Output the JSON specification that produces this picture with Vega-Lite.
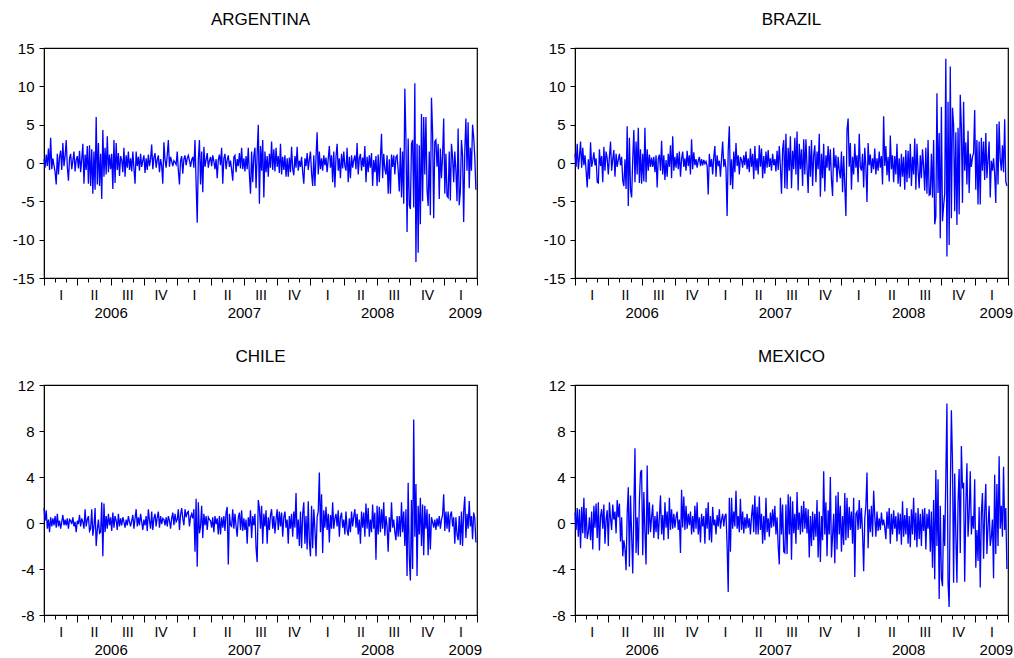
{
"$schema":"https://vega.github.io/schema/vega-lite/v6.json",
"background":"white",
"padding":{"left":11,"top":10,"right":0,"bottom":0},
"config":{"view":{"stroke":"black","strokeWidth":1.2},"axis":{"domainColor":"black","tickColor":"black","labelColor":"black","labelFont":"Liberation Sans","labelFontSize":15,"grid":false,"domainWidth":1,"tickWidth":1},"title":{"fontSize":17,"fontWeight":"normal","font":"Liberation Sans","color":"black","frame":"group","offset":12}},
"datasets":{"r":[
{"i":0,"a":0.5,"b":1.2,"c":1.3,"m":0.9},{"i":1,"a":-0.6,"b":-0.5,"c":0.2,"m":-0.6},{"i":2,"a":1.1,"b":2.5,"c":1.1,"m":1.3},{"i":3,"a":-0.4,"b":-0.8,"c":-0.5,"m":-1.2},{"i":4,"a":1.9,"b":0.8,"c":0.3,"m":1.2},{"i":5,"a":-0.9,"b":2.8,"c":-0.8,"m":-2.2},{"i":6,"a":3.3,"b":-0.6,"c":0.5,"m":1.4},{"i":7,"a":-0.8,"b":2.0,"c":-0.3,"m":-0.9},{"i":8,"a":0.6,"b":-0.3,"c":0.4,"m":2.2},{"i":9,"a":-0.3,"b":1.0,"c":-0.2,"m":-1.3},
{"i":10,"a":-1.2,"b":-1.0,"c":0.6,"m":1.3},{"i":11,"a":-2.8,"b":-3.2,"c":-0.4,"m":-1.4},{"i":12,"a":1.2,"b":0.5,"c":0.8,"m":-0.8},{"i":13,"a":-1.5,"b":-2.1,"c":-0.3,"m":0.5},{"i":14,"a":0.8,"b":2.7,"c":0.2,"m":-1.5},{"i":15,"a":1.6,"b":-0.5,"c":-0.5,"m":1.0},{"i":16,"a":-0.9,"b":0.3,"c":0.1,"m":-2.3},{"i":17,"a":2.6,"b":1.4,"c":0.7,"m":1.5},{"i":18,"a":-0.4,"b":-0.3,"c":-0.2,"m":-0.4},{"i":19,"a":0.9,"b":0.6,"c":0.3,"m":1.7},
{"i":20,"a":3.0,"b":-2.5,"c":-0.2,"m":-1.3},{"i":21,"a":-0.5,"b":-2.6,"c":0.4,"m":1.8},{"i":22,"a":-2.3,"b":1.8,"c":-0.5,"m":-2.4},{"i":23,"a":0.6,"b":-0.4,"c":0.3,"m":0.6},{"i":24,"a":1.2,"b":0.9,"c":0.2,"m":1.2},{"i":25,"a":-0.8,"b":-2.5,"c":-0.1,"m":-0.5},{"i":26,"a":0.3,"b":2.1,"c":0.5,"m":1.6},{"i":27,"a":1.5,"b":-1.0,"c":-0.3,"m":-1.8},{"i":28,"a":-1.1,"b":1.5,"c":0.1,"m":0.3},{"i":29,"a":0.4,"b":0.6,"c":-0.8,"m":1.1},
{"i":30,"a":0.9,"b":-1.5,"c":0.2,"m":-2.0},{"i":31,"a":-0.7,"b":0.8,"c":-0.1,"m":1.8},{"i":32,"a":1.6,"b":2.8,"c":0.7,"m":0.4},{"i":33,"a":-1.2,"b":-1.0,"c":-0.3,"m":-0.6},{"i":34,"a":0.5,"b":0.5,"c":0.4,"m":1.6},{"i":35,"a":2.5,"b":1.7,"c":0.1,"m":0.3},{"i":36,"a":-2.7,"b":-1.8,"c":-0.5,"m":1.0},{"i":37,"a":1.1,"b":1.2,"c":1.2,"m":-0.9},{"i":38,"a":-0.9,"b":-0.5,"c":-0.3,"m":2.0},{"i":39,"a":2.2,"b":0.4,"c":0.3,"m":0.5},
{"i":40,"a":-2.7,"b":1.2,"c":0.6,"m":1.7},{"i":41,"a":2.3,"b":-0.3,"c":-0.7,"m":-1.6},{"i":42,"a":-3.0,"b":0.8,"c":-0.5,"m":0.5},{"i":43,"a":1.8,"b":-2.3,"c":1.2,"m":-2.9},{"i":44,"a":-4.0,"b":-3.0,"c":-1.1,"m":-1.5},{"i":45,"a":1.5,"b":0.5,"c":-0.3,"m":-2.2},{"i":46,"a":-3.5,"b":-3.4,"c":1.3,"m":-4.1},{"i":47,"a":6.0,"b":4.8,"c":-2.0,"m":0.8},{"i":48,"a":-2.8,"b":-5.6,"c":-0.6,"m":3.1},{"i":49,"a":2.6,"b":3.3,"c":0.3,"m":-3.8},
{"i":50,"a":-3.0,"b":-3.5,"c":-0.9,"m":2.4},{"i":51,"a":1.2,"b":-4.5,"c":-0.8,"m":-1.0},{"i":52,"a":-4.7,"b":0.5,"c":1.8,"m":-4.4},{"i":53,"a":4.3,"b":4.3,"c":-2.9,"m":1.0},{"i":54,"a":-1.8,"b":-2.5,"c":1.7,"m":6.5},{"i":55,"a":2.0,"b":2.8,"c":-0.8,"m":-2.6},{"i":56,"a":-1.5,"b":-1.5,"c":0.6,"m":0.5},{"i":57,"a":3.5,"b":4.6,"c":-0.5,"m":-2.8},{"i":58,"a":-1.2,"b":-2.6,"c":0.8,"m":2.0},{"i":59,"a":1.1,"b":1.8,"c":-0.2,"m":4.4},
{"i":60,"a":-0.8,"b":-2.7,"c":0.5,"m":4.6},{"i":61,"a":1.2,"b":1.2,"c":-0.7,"m":-2.8},{"i":62,"a":-3.4,"b":-2.4,"c":0.9,"m":2.7},{"i":63,"a":3.0,"b":4.6,"c":-0.4,"m":-0.8},{"i":64,"a":-2.6,"b":-2.5,"c":0.6,"m":-3.6},{"i":65,"a":2.6,"b":1.8,"c":0.2,"m":5.0},{"i":66,"a":-0.9,"b":-1.0,"c":-0.6,"m":-1.0},{"i":67,"a":1.3,"b":1.1,"c":0.8,"m":1.8},{"i":68,"a":-1.7,"b":-0.5,"c":-0.3,"m":-0.8},{"i":69,"a":0.9,"b":0.7,"c":0.4,"m":0.5},
{"i":70,"a":0.4,"b":-0.5,"c":-0.2,"m":1.6},{"i":71,"a":-1.2,"b":0.8,"c":0.5,"m":-1.3},{"i":72,"a":2.0,"b":-1.2,"c":0.1,"m":0.6},{"i":73,"a":-1.8,"b":1.0,"c":-0.4,"m":-0.8},{"i":74,"a":1.0,"b":-3.2,"c":0.3,"m":1.0},{"i":75,"a":-0.6,"b":0.6,"c":-0.2,"m":-1.4},{"i":76,"a":1.5,"b":1.1,"c":0.6,"m":0.5},{"i":77,"a":-0.9,"b":-1.0,"c":0.1,"m":2.4},{"i":78,"a":0.6,"b":2.9,"c":-0.3,"m":-1.0},{"i":79,"a":-1.1,"b":-1.5,"c":0.2,"m":0.7},
{"i":80,"a":1.5,"b":1.0,"c":0.7,"m":-1.5},{"i":81,"a":-0.7,"b":-2.2,"c":-0.5,"m":1.8},{"i":82,"a":-2.7,"b":0.4,"c":0.4,"m":-0.4},{"i":83,"a":1.5,"b":-1.8,"c":1.2,"m":1.0},{"i":84,"a":-0.4,"b":1.2,"c":-0.3,"m":-1.4},{"i":85,"a":0.8,"b":-0.5,"c":0.5,"m":2.2},{"i":86,"a":-1.0,"b":2.3,"c":-0.2,"m":-0.6},{"i":87,"a":1.2,"b":-2.0,"c":0.8,"m":1.2},{"i":88,"a":-0.5,"b":3.5,"c":0.1,"m":-0.5},{"i":89,"a":0.3,"b":-1.0,"c":-0.6,"m":0.8},
{"i":90,"a":1.0,"b":0.8,"c":0.3,"m":-0.4},{"i":91,"a":-1.3,"b":-0.6,"c":-0.2,"m":0.5},{"i":92,"a":0.6,"b":1.3,"c":0.6,"m":1.0},{"i":93,"a":-0.9,"b":-0.8,"c":-0.7,"m":-0.6},{"i":94,"a":1.1,"b":1.5,"c":1.2,"m":0.3},{"i":95,"a":-0.4,"b":-1.8,"c":0.2,"m":-2.6},{"i":96,"a":0.5,"b":0.5,"c":-0.5,"m":2.9},{"i":97,"a":2.4,"b":1.5,"c":1.0,"m":-0.4},{"i":98,"a":-0.8,"b":-0.5,"c":-0.6,"m":2.3},{"i":99,"a":0.7,"b":0.6,"c":0.4,"m":-0.6},
{"i":100,"a":1.3,"b":-1.0,"c":0.8,"m":1.5},{"i":101,"a":-0.6,"b":1.6,"c":-0.3,"m":-0.5},{"i":102,"a":0.4,"b":-0.4,"c":0.5,"m":0.8},{"i":103,"a":1.0,"b":1.0,"c":1.0,"m":-0.2},{"i":104,"a":-1.2,"b":-1.5,"c":-0.4,"m":1.0},{"i":105,"a":0.5,"b":3.1,"c":0.6,"m":-1.0},{"i":106,"a":-0.3,"b":-0.8,"c":-0.1,"m":0.6},{"i":107,"a":-2.7,"b":1.4,"c":0.4,"m":-0.8},{"i":108,"a":2.7,"b":-0.3,"c":0.3,"m":1.5},{"i":109,"a":0.4,"b":0.5,"c":-0.2,"m":-0.5},
{"i":110,"a":-0.6,"b":-0.6,"c":0.5,"m":1.8},{"i":111,"a":1.0,"b":0.3,"c":-0.3,"m":-1.0},{"i":112,"a":3.0,"b":0.8,"c":0.6,"m":0.5},{"i":113,"a":-0.5,"b":-0.4,"c":0.2,"m":-1.7},{"i":114,"a":0.8,"b":0.5,"c":-0.5,"m":0.8},{"i":115,"a":0.2,"b":-0.3,"c":0.4,"m":-0.3},{"i":116,"a":-0.4,"b":0.4,"c":0.9,"m":0.6},{"i":117,"a":0.3,"b":-0.1,"c":-0.2,"m":-1.8},{"i":118,"a":0.1,"b":0.2,"c":0.8,"m":1.3},{"i":119,"a":-0.2,"b":-0.4,"c":0.1,"m":-0.5},
{"i":120,"a":1.5,"b":-4.1,"c":0.3,"m":1.8},{"i":121,"a":-1.0,"b":1.2,"c":1.2,"m":-1.5},{"i":122,"a":-2.8,"b":-0.5,"c":-0.6,"m":0.6},{"i":123,"a":0.3,"b":0.5,"c":0.7,"m":-1.7},{"i":124,"a":0.9,"b":-1.5,"c":1.3,"m":1.4},{"i":125,"a":-1.4,"b":0.8,"c":0.4,"m":-0.2},{"i":126,"a":0.5,"b":2.2,"c":-0.2,"m":0.3},{"i":127,"a":1.0,"b":-1.8,"c":1.2,"m":-1.0},{"i":128,"a":-0.3,"b":1.0,"c":0.5,"m":0.7},{"i":129,"a":0.6,"b":-0.4,"c":0.9,"m":-0.3},
{"i":130,"a":1.0,"b":0.3,"c":1.0,"m":1.2},{"i":131,"a":0.3,"b":-1.8,"c":-0.3,"m":-0.5},{"i":132,"a":-0.5,"b":0.6,"c":0.5,"m":0.3},{"i":133,"a":0.4,"b":2.8,"c":0.8,"m":0.8},{"i":134,"a":0.8,"b":-0.5,"c":0.4,"m":-0.3},{"i":135,"a":-0.6,"b":0.5,"c":1.2,"m":0.6},{"i":136,"a":3.0,"b":-0.8,"c":-2.5,"m":0.8},{"i":137,"a":-2.6,"b":-6.9,"c":2.1,"m":-2.0},{"i":138,"a":-7.8,"b":1.6,"c":-3.8,"m":-6.0},{"i":139,"a":0.5,"b":4.8,"c":1.8,"m":2.2},
{"i":140,"a":3.0,"b":-2.9,"c":-0.9,"m":-2.5},{"i":141,"a":-2.8,"b":0.5,"c":-0.3,"m":2.2},{"i":142,"a":1.5,"b":-3.4,"c":1.5,"m":-0.5},{"i":143,"a":-3.8,"b":1.5,"c":-1.3,"m":1.0},{"i":144,"a":2.1,"b":-1.2,"c":0.8,"m":-0.3},{"i":145,"a":-0.5,"b":2.6,"c":-0.2,"m":2.8},{"i":146,"a":0.4,"b":-0.4,"c":0.6,"m":-0.5},{"i":147,"a":1.3,"b":1.0,"c":-0.6,"m":0.6},{"i":148,"a":-0.6,"b":-1.5,"c":0.5,"m":-0.8},{"i":149,"a":0.3,"b":0.8,"c":0.3,"m":2.1},
{"i":150,"a":0.8,"b":0.4,"c":0.2,"m":-0.6},{"i":151,"a":-0.4,"b":-0.6,"c":-0.4,"m":1.0},{"i":152,"a":1.0,"b":1.0,"c":0.5,"m":-0.9},{"i":153,"a":0.2,"b":-0.3,"c":-0.8,"m":0.5},{"i":154,"a":-0.8,"b":1.5,"c":0.6,"m":-0.5},{"i":155,"a":0.5,"b":-0.8,"c":-0.1,"m":0.8},{"i":156,"a":-2.0,"b":0.6,"c":0.4,"m":-0.4},{"i":157,"a":0.4,"b":-1.2,"c":-1.0,"m":0.4},{"i":158,"a":1.1,"b":1.9,"c":0.6,"m":-1.0},{"i":159,"a":-0.3,"b":-0.5,"c":-1.0,"m":0.6},
{"i":160,"a":2.0,"b":1.2,"c":0.5,"m":1.6},{"i":161,"a":-2.7,"b":-2.1,"c":-0.4,"m":-0.8},{"i":162,"a":0.6,"b":2.2,"c":0.6,"m":2.4},{"i":163,"a":1.2,"b":-1.0,"c":-0.7,"m":-1.0},{"i":164,"a":-0.8,"b":0.6,"c":0.9,"m":1.4},{"i":165,"a":0.4,"b":-1.5,"c":1.4,"m":-1.0},{"i":166,"a":1.0,"b":2.3,"c":-3.6,"m":2.3},{"i":167,"a":-0.5,"b":-0.5,"c":0.8,"m":-0.6},{"i":168,"a":0.3,"b":1.9,"c":-0.2,"m":0.8},{"i":169,"a":-0.9,"b":-2.0,"c":-0.3,"m":-1.8},
{"i":170,"a":-2.3,"b":0.9,"c":1.2,"m":0.6},{"i":171,"a":0.8,"b":-1.4,"c":-0.5,"m":-1.5},{"i":172,"a":1.0,"b":1.5,"c":0.8,"m":2.2},{"i":173,"a":-1.2,"b":-0.6,"c":-0.3,"m":-0.8},{"i":174,"a":0.5,"b":1.7,"c":-1.2,"m":0.4},{"i":175,"a":-0.4,"b":-0.5,"c":0.5,"m":-1.2},{"i":176,"a":1.3,"b":0.6,"c":0.9,"m":0.9},{"i":177,"a":-0.7,"b":-1.0,"c":-0.6,"m":-0.4},{"i":178,"a":2.0,"b":1.2,"c":1.1,"m":1.2},{"i":179,"a":-0.8,"b":-0.3,"c":-0.7,"m":-0.3},
{"i":180,"a":0.6,"b":0.5,"c":0.4,"m":1.5},{"i":181,"a":-1.1,"b":-1.1,"c":-0.6,"m":-1.0},{"i":182,"a":0.9,"b":1.6,"c":0.3,"m":0.5},{"i":183,"a":-0.8,"b":-0.9,"c":-1.8,"m":-2.0},{"i":184,"a":2.0,"b":2.2,"c":0.5,"m":-3.6},{"i":185,"a":-1.5,"b":-0.5,"c":-0.3,"m":2.2},{"i":186,"a":-4.0,"b":-4.0,"c":1.1,"m":-1.0},{"i":187,"a":1.5,"b":1.8,"c":-1.3,"m":1.6},{"i":188,"a":-2.5,"b":3.0,"c":0.6,"m":-2.5},{"i":189,"a":0.9,"b":-3.3,"c":-0.2,"m":-2.6},
{"i":190,"a":2.0,"b":3.8,"c":0.8,"m":1.6},{"i":191,"a":-3.3,"b":-3.4,"c":-2.2,"m":-2.7},{"i":192,"a":1.2,"b":2.0,"c":-3.4,"m":2.5},{"i":193,"a":5.0,"b":-1.0,"c":2.0,"m":-1.0},{"i":194,"a":-5.3,"b":3.5,"c":1.3,"m":2.3},{"i":195,"a":2.2,"b":-3.3,"c":-0.5,"m":-3.2},{"i":196,"a":-1.0,"b":1.6,"c":1.5,"m":1.9},{"i":197,"a":3.0,"b":-0.8,"c":-1.8,"m":-0.9},{"i":198,"a":-4.5,"b":3.3,"c":0.8,"m":0.8},{"i":199,"a":1.5,"b":-1.5,"c":-0.3,"m":-1.8},
{"i":200,"a":-1.2,"b":4.1,"c":1.1,"m":2.7},{"i":201,"a":0.9,"b":-3.6,"c":-1.8,"m":-0.6},{"i":202,"a":-1.8,"b":2.5,"c":0.5,"m":0.9},{"i":203,"a":1.2,"b":-0.8,"c":-0.6,"m":-1.0},{"i":204,"a":-0.6,"b":1.8,"c":0.7,"m":1.5},{"i":205,"a":2.8,"b":-3.0,"c":1.2,"m":-0.8},{"i":206,"a":-0.9,"b":3.1,"c":-0.5,"m":1.9},{"i":207,"a":1.8,"b":-1.5,"c":0.6,"m":-0.5},{"i":208,"a":-1.1,"b":3.1,"c":-0.9,"m":1.3},{"i":209,"a":2.0,"b":-0.6,"c":0.3,"m":-0.9},
{"i":210,"a":-0.5,"b":-3.9,"c":1.2,"m":1.2},{"i":211,"a":0.9,"b":2.2,"c":-0.6,"m":-3.0},{"i":212,"a":-1.3,"b":-1.8,"c":1.0,"m":0.6},{"i":213,"a":2.5,"b":3.0,"c":-0.3,"m":-2.0},{"i":214,"a":-1.5,"b":-3.0,"c":0.9,"m":1.0},{"i":215,"a":0.8,"b":1.0,"c":-1.2,"m":-1.5},{"i":216,"a":-0.9,"b":2.3,"c":0.5,"m":0.8},{"i":217,"a":1.0,"b":-2.5,"c":1.0,"m":-1.2},{"i":218,"a":-1.8,"b":1.5,"c":-0.4,"m":2.0},{"i":219,"a":0.6,"b":-0.8,"c":0.3,"m":-3.0},
{"i":220,"a":-1.8,"b":3.8,"c":-1.8,"m":1.0},{"i":221,"a":0.7,"b":-4.4,"c":0.6,"m":-3.4},{"i":222,"a":-1.2,"b":1.2,"c":-0.5,"m":0.6},{"i":223,"a":2.1,"b":-2.0,"c":0.8,"m":-1.5},{"i":224,"a":-0.8,"b":2.5,"c":-1.2,"m":4.5},{"i":225,"a":-1.6,"b":-3.7,"c":1.0,"m":-1.0},{"i":226,"a":0.9,"b":1.0,"c":-0.4,"m":1.8},{"i":227,"a":-0.6,"b":-0.6,"c":2.6,"m":-2.9},{"i":228,"a":2.1,"b":2.2,"c":-1.4,"m":1.1},{"i":229,"a":-1.0,"b":-1.0,"c":0.3,"m":-1.0},
{"i":230,"a":0.3,"b":1.8,"c":-2.0,"m":4.0},{"i":231,"a":-0.5,"b":-2.2,"c":1.0,"m":-3.0},{"i":232,"a":0.8,"b":-4.3,"c":-2.2,"m":-1.1},{"i":233,"a":-1.2,"b":2.0,"c":0.8,"m":0.8},{"i":234,"a":-2.7,"b":-0.6,"c":1.8,"m":-3.5},{"i":235,"a":0.6,"b":1.0,"c":-1.8,"m":2.4},{"i":236,"a":-0.4,"b":-2.5,"c":0.6,"m":-2.3},{"i":237,"a":1.3,"b":0.8,"c":-2.3,"m":2.7},{"i":238,"a":-0.9,"b":-1.0,"c":1.9,"m":-1.0},{"i":239,"a":0.5,"b":-2.0,"c":-1.6,"m":1.5},
{"i":240,"a":1.5,"b":1.5,"c":-2.9,"m":-2.5},{"i":241,"a":-1.4,"b":-3.8,"c":1.5,"m":0.6},{"i":242,"a":-3.0,"b":0.9,"c":-2.2,"m":-1.9},{"i":243,"a":1.0,"b":-3.0,"c":1.2,"m":2.6},{"i":244,"a":-3.0,"b":-6.9,"c":-0.5,"m":-1.5},{"i":245,"a":0.8,"b":4.3,"c":-2.9,"m":2.2},{"i":246,"a":4.0,"b":5.8,"c":0.5,"m":-1.3},{"i":247,"a":-1.5,"b":-0.5,"c":1.0,"m":1.4},{"i":248,"a":1.5,"b":2.6,"c":4.4,"m":-0.6},{"i":249,"a":-0.8,"b":-3.5,"c":-0.8,"m":1.0},
{"i":250,"a":0.6,"b":0.8,"c":2.5,"m":-1.8},{"i":251,"a":-1.0,"b":-1.5,"c":-2.6,"m":2.2},{"i":252,"a":1.0,"b":2.5,"c":1.1,"m":-4.7},{"i":253,"a":-0.3,"b":-0.6,"c":-0.4,"m":0.8},{"i":254,"a":0.7,"b":1.0,"c":1.4,"m":1.0},{"i":255,"a":-1.2,"b":-2.5,"c":-0.6,"m":-0.6},{"i":256,"a":0.5,"b":3.8,"c":0.8,"m":2.0},{"i":257,"a":2.2,"b":-0.5,"c":-1.7,"m":-0.5},{"i":258,"a":-0.6,"b":-1.0,"c":0.7,"m":1.3},{"i":259,"a":1.0,"b":1.2,"c":-0.5,"m":-0.9},
{"i":260,"a":-2.5,"b":-3.2,"c":1.8,"m":-4.2},{"i":261,"a":1.5,"b":2.0,"c":-0.5,"m":0.4},{"i":262,"a":-3.2,"b":-0.5,"c":0.4,"m":1.5},{"i":263,"a":0.8,"b":-5.1,"c":0.8,"m":4.4},{"i":264,"a":2.5,"b":2.6,"c":-0.3,"m":-2.2},{"i":265,"a":-1.0,"b":-0.3,"c":1.1,"m":1.2},{"i":266,"a":0.6,"b":1.1,"c":-1.2,"m":-0.8},{"i":267,"a":-2.0,"b":-1.3,"c":0.5,"m":1.5},{"i":268,"a":1.2,"b":0.6,"c":0.9,"m":-1.2},{"i":269,"a":-0.7,"b":-0.8,"c":-0.4,"m":2.8},
{"i":270,"a":1.5,"b":1.9,"c":0.3,"m":0.6},{"i":271,"a":-0.4,"b":-1.5,"c":-1.0,"m":-1.2},{"i":272,"a":-1.0,"b":0.6,"c":1.0,"m":1.0},{"i":273,"a":2.0,"b":-1.0,"c":-0.6,"m":-0.7},{"i":274,"a":-2.5,"b":1.5,"c":-1.1,"m":0.4},{"i":275,"a":0.8,"b":-0.6,"c":0.4,"m":-0.6},{"i":276,"a":-2.0,"b":0.9,"c":-0.8,"m":0.9},{"i":277,"a":1.0,"b":-2.8,"c":1.0,"m":-0.2},{"i":278,"a":-0.6,"b":6.1,"c":-0.3,"m":0.3},{"i":279,"a":0.4,"b":-0.4,"c":0.6,"m":-0.4},
{"i":280,"a":1.0,"b":2.2,"c":1.2,"m":-1.4},{"i":281,"a":-0.8,"b":-1.6,"c":-0.4,"m":1.0},{"i":282,"a":2.6,"b":0.8,"c":0.8,"m":-0.5},{"i":283,"a":-1.5,"b":-2.4,"c":-1.0,"m":1.3},{"i":284,"a":0.6,"b":3.6,"c":0.3,"m":-1.8},{"i":285,"a":1.2,"b":-0.8,"c":-1.8,"m":0.8},{"i":286,"a":-1.0,"b":1.0,"c":1.0,"m":-1.0},{"i":287,"a":0.7,"b":-2.5,"c":-0.4,"m":1.1},{"i":288,"a":-0.5,"b":0.9,"c":0.9,"m":-0.5},{"i":289,"a":2.2,"b":-1.5,"c":-1.2,"m":0.6},
{"i":290,"a":-2.5,"b":2.5,"c":1.7,"m":-1.6},{"i":291,"a":0.8,"b":-2.7,"c":-0.5,"m":0.9},{"i":292,"a":-1.2,"b":0.6,"c":1.3,"m":-1.0},{"i":293,"a":1.0,"b":-3.1,"c":-1.2,"m":0.8},{"i":294,"a":-0.6,"b":1.2,"c":0.3,"m":-1.9},{"i":295,"a":1.3,"b":-1.8,"c":-0.8,"m":1.9},{"i":296,"a":-3.0,"b":0.8,"c":1.6,"m":-1.2},{"i":297,"a":0.4,"b":-3.5,"c":-0.5,"m":0.7},{"i":298,"a":-1.2,"b":1.7,"c":0.9,"m":-1.0},{"i":299,"a":0.9,"b":-2.5,"c":-3.2,"m":1.3},
{"i":300,"a":-3.0,"b":1.6,"c":1.5,"m":-1.8},{"i":301,"a":1.1,"b":-2.0,"c":-1.0,"m":0.6},{"i":302,"a":-2.5,"b":2.5,"c":1.4,"m":-2.1},{"i":303,"a":0.6,"b":-3.0,"c":-0.8,"m":1.2},{"i":304,"a":3.8,"b":0.8,"c":1.2,"m":-1.0},{"i":305,"a":-2.0,"b":-1.5,"c":-0.5,"m":2.2},{"i":306,"a":1.2,"b":3.2,"c":1.8,"m":-1.5},{"i":307,"a":-0.8,"b":-3.5,"c":-1.1,"m":0.9},{"i":308,"a":-1.5,"b":2.5,"c":0.6,"m":-2.1},{"i":309,"a":1.0,"b":-1.0,"c":-0.3,"m":1.3},
{"i":310,"a":-4.0,"b":-3.3,"c":-2.5,"m":-1.4},{"i":311,"a":0.5,"b":1.0,"c":0.5,"m":0.8},{"i":312,"a":-4.0,"b":-2.0,"c":-0.8,"m":-2.0},{"i":313,"a":1.1,"b":1.8,"c":1.8,"m":1.2},{"i":314,"a":-0.5,"b":-0.5,"c":-0.4,"m":-0.7},{"i":315,"a":1.0,"b":-3.6,"c":0.3,"m":1.3},{"i":316,"a":-1.5,"b":2.0,"c":-0.8,"m":-2.3},{"i":317,"a":0.8,"b":-4.0,"c":-1.5,"m":0.8},{"i":318,"a":1.0,"b":3.0,"c":0.6,"m":-0.5},{"i":319,"a":-0.9,"b":-4.2,"c":-1.2,"m":1.2},
{"i":320,"a":-3.7,"b":-4.1,"c":0.6,"m":-2.5},{"i":321,"a":2.0,"b":1.2,"c":-1.2,"m":1.0},{"i":322,"a":-4.5,"b":-4.5,"c":1.8,"m":-3.9},{"i":323,"a":1.5,"b":3.0,"c":-0.8,"m":2.0},{"i":324,"a":-5.3,"b":-8.0,"c":1.0,"m":-4.9},{"i":325,"a":9.7,"b":-7.0,"c":-2.0,"m":4.6},{"i":326,"a":3.0,"b":9.1,"c":1.2,"m":-2.0},{"i":327,"a":-9.0,"b":-3.9,"c":-4.6,"m":3.8},{"i":328,"a":3.2,"b":3.9,"c":3.5,"m":-6.6},{"i":329,"a":-5.5,"b":-9.8,"c":-3.0,"m":1.5},
{"i":330,"a":-6.0,"b":7.3,"c":-5.0,"m":-4.8},{"i":331,"a":2.5,"b":-7.6,"c":2.0,"m":-5.5},{"i":332,"a":3.0,"b":-5.6,"c":-4.0,"m":0.7},{"i":333,"a":-5.8,"b":-4.0,"c":9.0,"m":-2.0},{"i":334,"a":10.4,"b":13.6,"c":-1.2,"m":4.0},{"i":335,"a":-12.9,"b":-12.2,"c":3.4,"m":10.4},{"i":336,"a":2.5,"b":8.0,"c":-4.6,"m":-5.2},{"i":337,"a":-11.7,"b":-10.7,"c":1.5,"m":-7.3},{"i":338,"a":2.3,"b":12.6,"c":-1.0,"m":2.3},{"i":339,"a":-8.0,"b":-7.2,"c":2.2,"m":9.8},
{"i":340,"a":6.4,"b":7.2,"c":-2.0,"m":5.3},{"i":341,"a":-5.0,"b":5.0,"c":1.6,"m":-5.2},{"i":342,"a":6.0,"b":-6.3,"c":-2.8,"m":4.3},{"i":343,"a":-1.5,"b":4.0,"c":1.5,"m":-1.0},{"i":344,"a":6.0,"b":-8.1,"c":-0.5,"m":-5.2},{"i":345,"a":-3.5,"b":4.6,"c":1.2,"m":1.8},{"i":346,"a":-5.6,"b":-6.7,"c":-2.8,"m":4.7},{"i":347,"a":1.5,"b":8.9,"c":0.8,"m":-2.6},{"i":348,"a":-6.8,"b":4.6,"c":-2.3,"m":6.7},{"i":349,"a":8.5,"b":-5.2,"c":0.5,"m":3.0},
{"i":350,"a":4.0,"b":8.0,"c":0.1,"m":3.5},{"i":351,"a":-7.2,"b":-1.0,"c":-0.4,"m":-5.1},{"i":352,"a":2.8,"b":2.7,"c":0.3,"m":1.5},{"i":353,"a":3.0,"b":-2.8,"c":-0.6,"m":5.2},{"i":354,"a":-0.5,"b":4.2,"c":0.4,"m":-1.2},{"i":355,"a":2.5,"b":-3.9,"c":-0.3,"m":0.8},{"i":356,"a":-4.7,"b":1.2,"c":0.6,"m":4.5},{"i":357,"a":1.9,"b":-0.5,"c":-0.5,"m":-1.0},{"i":358,"a":-2.0,"b":0.8,"c":0.3,"m":0.6},{"i":359,"a":1.0,"b":1.3,"c":0.7,"m":-0.5},
{"i":360,"a":5.8,"b":6.9,"c":2.5,"m":3.8},{"i":361,"a":-4.0,"b":-3.5,"c":-0.7,"m":-3.9},{"i":362,"a":1.2,"b":3.0,"c":1.0,"m":-0.6},{"i":363,"a":-4.3,"b":-5.4,"c":-0.5,"m":-3.3},{"i":364,"a":-4.5,"b":2.8,"c":1.0,"m":1.4},{"i":365,"a":1.5,"b":-5.4,"c":-0.8,"m":-5.6},{"i":366,"a":-4.9,"b":3.3,"c":0.7,"m":0.8},{"i":367,"a":2.5,"b":-1.0,"c":1.0,"m":2.6},{"i":368,"a":0.8,"b":2.8,"c":-0.3,"m":-3.1},{"i":369,"a":-2.5,"b":-2.2,"c":0.5,"m":1.0},
{"i":370,"a":1.5,"b":3.9,"c":-1.8,"m":3.4},{"i":371,"a":-1.0,"b":-2.0,"c":0.5,"m":-2.7},{"i":372,"a":-5.0,"b":0.5,"c":-1.0,"m":-0.3},{"i":373,"a":4.5,"b":2.8,"c":-1.5,"m":1.5},{"i":374,"a":-5.5,"b":-4.5,"c":0.6,"m":-2.0},{"i":375,"a":-3.7,"b":0.3,"c":-1.9,"m":-1.2},{"i":376,"a":3.0,"b":-1.0,"c":1.0,"m":0.3},{"i":377,"a":1.0,"b":0.6,"c":-2.0,"m":-4.8},{"i":378,"a":-7.7,"b":-1.5,"c":1.0,"m":4.2},{"i":379,"a":1.5,"b":-5.2,"c":2.3,"m":-2.7},
{"i":380,"a":5.8,"b":5.1,"c":-1.3,"m":3.4},{"i":381,"a":-1.0,"b":-2.8,"c":0.8,"m":-2.0},{"i":382,"a":5.3,"b":5.4,"c":-0.5,"m":5.8},{"i":383,"a":-3.3,"b":0.5,"c":1.9,"m":-0.5},{"i":384,"a":2.0,"b":-1.0,"c":-0.3,"m":1.5},{"i":385,"a":-1.0,"b":2.3,"c":0.6,"m":-1.2},{"i":386,"a":5.0,"b":-1.2,"c":-1.4,"m":4.9},{"i":387,"a":3.4,"b":5.7,"c":0.9,"m":-0.6},{"i":388,"a":0.8,"b":-2.4,"c":0.4,"m":1.3},{"i":389,"a":-3.5,"b":-3.0,"c":-1.7,"m":-4.0}
]},
"data":{"name":"r"},
"columns":2,
"spacing":{"row":107,"column":98},
"bounds":"flush",
"concat":[
{"width":433,"height":230,"title":"ARGENTINA",
 "layer":[
  {"mark":{"type":"line","color":"#0000ff","strokeWidth":1.3},
   "encoding":{
    "x":{"field":"i","type":"quantitative","scale":{"domain":[0,390],"nice":false,"zero":false},"axis":{"title":null,"orient":"bottom","values":[0,10,20,30,40,50,60,70,80,90,100,110,120,130,140,150,160,170,180,190,200,210,220,230,240,250,260,270,280,290,300,310,320,330,340,350,360,370,380,390],"labels":false,"tickSize":{"condition":{"test":"datum.value % 30 === 0","value":7},"value":4}}},
    "y":{"field":"a","type":"quantitative","scale":{"domain":[-15,15],"nice":false,"zero":false},"axis":{"title":null,"values":[-15,-10,-5,0,5,10,15],"labelExpr":"'' + datum.value","tickSize":5,"labelPadding":5}}}},
  {"mark":{"type":"point","opacity":0},
   "encoding":{"x":{"field":"i","type":"quantitative","scale":{"domain":[0,390],"nice":false,"zero":false},"axis":{"title":null,"orient":"bottom","values":[15,45,75,105,135,165,195,225,255,285,315,345,375],"labelExpr":"['I','II','III','IV'][((datum.value-15)/30)%4]","ticks":false,"domain":false,"labelPadding":10,"labelFlush":false,"labelFontSize":14}},
    "y":{"field":"a","type":"quantitative","scale":{"domain":[-15,15],"nice":false,"zero":false},"axis":{"title":null,"values":[-15,-10,-5,0,5,10,15],"labelExpr":"'' + datum.value","tickSize":5,"labelPadding":5}}}},
  {"mark":{"type":"point","opacity":0},
   "encoding":{"x":{"field":"i","type":"quantitative","scale":{"domain":[0,390],"nice":false,"zero":false},"axis":{"title":null,"orient":"bottom","values":[60,180,300,379],"labelExpr":"datum.value<120?'2006':datum.value<240?'2007':datum.value<360?'2008':'2009'","ticks":false,"domain":false,"labelPadding":27,"labelFlush":false}},
    "y":{"field":"a","type":"quantitative","scale":{"domain":[-15,15],"nice":false,"zero":false},"axis":{"title":null,"values":[-15,-10,-5,0,5,10,15],"labelExpr":"'' + datum.value","tickSize":5,"labelPadding":5}}}}
 ],
 "resolve":{"axis":{"x":"independent"}}},
{"width":433,"height":230,"title":"BRAZIL",
 "layer":[
  {"mark":{"type":"line","color":"#0000ff","strokeWidth":1.3},
   "encoding":{
    "x":{"field":"i","type":"quantitative","scale":{"domain":[0,390],"nice":false,"zero":false},"axis":{"title":null,"orient":"bottom","values":[0,10,20,30,40,50,60,70,80,90,100,110,120,130,140,150,160,170,180,190,200,210,220,230,240,250,260,270,280,290,300,310,320,330,340,350,360,370,380,390],"labels":false,"tickSize":{"condition":{"test":"datum.value % 30 === 0","value":7},"value":4}}},
    "y":{"field":"b","type":"quantitative","scale":{"domain":[-15,15],"nice":false,"zero":false},"axis":{"title":null,"values":[-15,-10,-5,0,5,10,15],"labelExpr":"'' + datum.value","tickSize":5,"labelPadding":5}}}},
  {"mark":{"type":"point","opacity":0},
   "encoding":{"x":{"field":"i","type":"quantitative","scale":{"domain":[0,390],"nice":false,"zero":false},"axis":{"title":null,"orient":"bottom","values":[15,45,75,105,135,165,195,225,255,285,315,345,375],"labelExpr":"['I','II','III','IV'][((datum.value-15)/30)%4]","ticks":false,"domain":false,"labelPadding":10,"labelFlush":false,"labelFontSize":14}},
    "y":{"field":"b","type":"quantitative","scale":{"domain":[-15,15],"nice":false,"zero":false},"axis":{"title":null,"values":[-15,-10,-5,0,5,10,15],"labelExpr":"'' + datum.value","tickSize":5,"labelPadding":5}}}},
  {"mark":{"type":"point","opacity":0},
   "encoding":{"x":{"field":"i","type":"quantitative","scale":{"domain":[0,390],"nice":false,"zero":false},"axis":{"title":null,"orient":"bottom","values":[60,180,300,379],"labelExpr":"datum.value<120?'2006':datum.value<240?'2007':datum.value<360?'2008':'2009'","ticks":false,"domain":false,"labelPadding":27,"labelFlush":false}},
    "y":{"field":"b","type":"quantitative","scale":{"domain":[-15,15],"nice":false,"zero":false},"axis":{"title":null,"values":[-15,-10,-5,0,5,10,15],"labelExpr":"'' + datum.value","tickSize":5,"labelPadding":5}}}}
 ],
 "resolve":{"axis":{"x":"independent"}}},
{"width":433,"height":230,"title":"CHILE",
 "layer":[
  {"mark":{"type":"line","color":"#0000ff","strokeWidth":1.3},
   "encoding":{
    "x":{"field":"i","type":"quantitative","scale":{"domain":[0,390],"nice":false,"zero":false},"axis":{"title":null,"orient":"bottom","values":[0,10,20,30,40,50,60,70,80,90,100,110,120,130,140,150,160,170,180,190,200,210,220,230,240,250,260,270,280,290,300,310,320,330,340,350,360,370,380,390],"labels":false,"tickSize":{"condition":{"test":"datum.value % 30 === 0","value":7},"value":4}}},
    "y":{"field":"c","type":"quantitative","scale":{"domain":[-8,12],"nice":false,"zero":false},"axis":{"title":null,"values":[-8,-4,0,4,8,12],"labelExpr":"'' + datum.value","tickSize":5,"labelPadding":5}}}},
  {"mark":{"type":"point","opacity":0},
   "encoding":{"x":{"field":"i","type":"quantitative","scale":{"domain":[0,390],"nice":false,"zero":false},"axis":{"title":null,"orient":"bottom","values":[15,45,75,105,135,165,195,225,255,285,315,345,375],"labelExpr":"['I','II','III','IV'][((datum.value-15)/30)%4]","ticks":false,"domain":false,"labelPadding":10,"labelFlush":false,"labelFontSize":14}},
    "y":{"field":"c","type":"quantitative","scale":{"domain":[-8,12],"nice":false,"zero":false},"axis":{"title":null,"values":[-8,-4,0,4,8,12],"labelExpr":"'' + datum.value","tickSize":5,"labelPadding":5}}}},
  {"mark":{"type":"point","opacity":0},
   "encoding":{"x":{"field":"i","type":"quantitative","scale":{"domain":[0,390],"nice":false,"zero":false},"axis":{"title":null,"orient":"bottom","values":[60,180,300,379],"labelExpr":"datum.value<120?'2006':datum.value<240?'2007':datum.value<360?'2008':'2009'","ticks":false,"domain":false,"labelPadding":27,"labelFlush":false}},
    "y":{"field":"c","type":"quantitative","scale":{"domain":[-8,12],"nice":false,"zero":false},"axis":{"title":null,"values":[-8,-4,0,4,8,12],"labelExpr":"'' + datum.value","tickSize":5,"labelPadding":5}}}}
 ],
 "resolve":{"axis":{"x":"independent"}}},
{"width":433,"height":230,"title":"MEXICO",
 "layer":[
  {"mark":{"type":"line","color":"#0000ff","strokeWidth":1.3},
   "encoding":{
    "x":{"field":"i","type":"quantitative","scale":{"domain":[0,390],"nice":false,"zero":false},"axis":{"title":null,"orient":"bottom","values":[0,10,20,30,40,50,60,70,80,90,100,110,120,130,140,150,160,170,180,190,200,210,220,230,240,250,260,270,280,290,300,310,320,330,340,350,360,370,380,390],"labels":false,"tickSize":{"condition":{"test":"datum.value % 30 === 0","value":7},"value":4}}},
    "y":{"field":"m","type":"quantitative","scale":{"domain":[-8,12],"nice":false,"zero":false},"axis":{"title":null,"values":[-8,-4,0,4,8,12],"labelExpr":"'' + datum.value","tickSize":5,"labelPadding":5}}}},
  {"mark":{"type":"point","opacity":0},
   "encoding":{"x":{"field":"i","type":"quantitative","scale":{"domain":[0,390],"nice":false,"zero":false},"axis":{"title":null,"orient":"bottom","values":[15,45,75,105,135,165,195,225,255,285,315,345,375],"labelExpr":"['I','II','III','IV'][((datum.value-15)/30)%4]","ticks":false,"domain":false,"labelPadding":10,"labelFlush":false,"labelFontSize":14}},
    "y":{"field":"m","type":"quantitative","scale":{"domain":[-8,12],"nice":false,"zero":false},"axis":{"title":null,"values":[-8,-4,0,4,8,12],"labelExpr":"'' + datum.value","tickSize":5,"labelPadding":5}}}},
  {"mark":{"type":"point","opacity":0},
   "encoding":{"x":{"field":"i","type":"quantitative","scale":{"domain":[0,390],"nice":false,"zero":false},"axis":{"title":null,"orient":"bottom","values":[60,180,300,379],"labelExpr":"datum.value<120?'2006':datum.value<240?'2007':datum.value<360?'2008':'2009'","ticks":false,"domain":false,"labelPadding":27,"labelFlush":false}},
    "y":{"field":"m","type":"quantitative","scale":{"domain":[-8,12],"nice":false,"zero":false},"axis":{"title":null,"values":[-8,-4,0,4,8,12],"labelExpr":"'' + datum.value","tickSize":5,"labelPadding":5}}}}
 ],
 "resolve":{"axis":{"x":"independent"}}}
]
}
